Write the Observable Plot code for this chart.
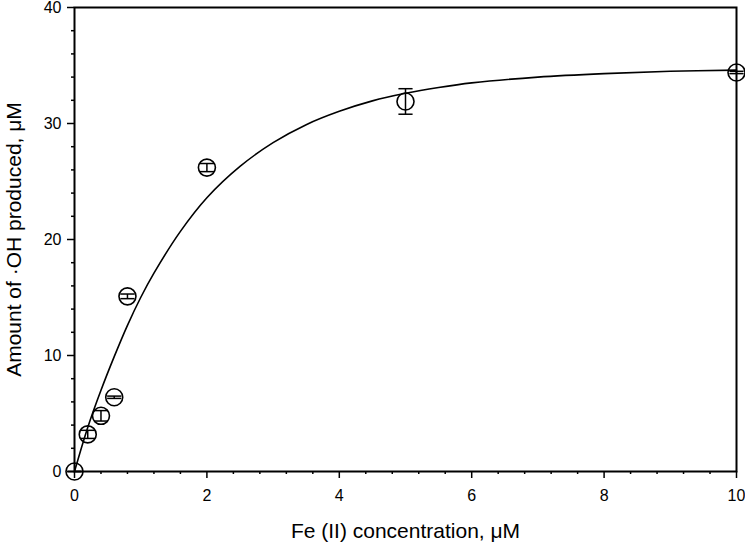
<!DOCTYPE html>
<html>
<head>
<meta charset="utf-8">
<script src="https://cdn.jsdelivr.net/npm/d3@7"></script>
<script src="https://cdn.jsdelivr.net/npm/@observablehq/plot@0.6"></script>
<style>
  html, body { margin: 0; padding: 0; background: #fff; }
  svg { display: block; }
</style>
</head>
<body>
<div id="chart"></div>
<script>
// Measured points
const concX = [0, 0.2, 0.4, 0.6, 0.8, 2, 5, 10];
const ohY   = [0, 3.2, 4.8, 6.4, 15.1, 26.2, 31.9, 34.4];
const ohErr = [0, 0.35, 0.45, 0.1, 0.2, 0.35, 1.1, 0.1];

// Fitted curve
const fitX = [0, 0.2, 0.4, 0.6, 0.8, 1, 1.2, 1.6, 2, 2.5, 3, 3.5, 4, 4.5, 5, 5.5, 6, 7, 8, 9, 10];
const fitY = [0, 3.8, 7.0, 9.9, 12.6, 15.0, 17.1, 20.7, 23.6, 26.3, 28.35, 29.9, 31.05, 31.95, 32.6, 33.1, 33.5, 34.0, 34.3, 34.5, 34.6];

// Ticks
const xMajor = [0, 2, 4, 6, 8, 10];
const xMinor = [0.4, 0.8, 1.2, 1.6, 2.4, 2.8, 3.2, 3.6, 4.4, 4.8, 5.2, 5.6, 6.4, 6.8, 7.2, 7.6, 8.4, 8.8, 9.2, 9.6];
const yMajor = [0, 10, 20, 30, 40];
const yMinor = [2, 4, 6, 8, 12, 14, 16, 18, 22, 24, 26, 28, 32, 34, 36, 38];

const xLabel = "Fe (II) concentration, μM";
const yLabel = "Amount of ·OH produced, μM";

const points = concX.map((x, i) => ({x, y: ohY[i], e: ohErr[i]}));
const fit = fitX.map((x, i) => ({x, y: fitY[i]}));

const cap = {
  draw(context, size) {
    const w = Math.sqrt(size);
    context.moveTo(-w, 0);
    context.lineTo(w, 0);
  }
};

const chart = Plot.plot({
  width: 745,
  height: 549,
  marginLeft: 74,
  marginRight: 9,
  marginTop: 7,
  marginBottom: 78,
  style: {fontFamily: "'Liberation Sans', Arial, sans-serif", fontSize: "16px", color: "#000", background: "#fff"},
  x: {domain: [0, 10]},
  y: {domain: [0, 40]},
  marks: [
    Plot.axisX({ticks: xMinor, tickSize: 3, text: null, strokeWidth: 1.5, label: null}),
    Plot.axisX({ticks: xMajor, tickSize: 7, tickPadding: 11, strokeWidth: 1.5, label: null, fontSize: 16}),
    Plot.axisY({ticks: yMinor, tickSize: 3, text: null, strokeWidth: 1.5, label: null}),
    Plot.axisY({ticks: yMajor, tickSize: 7, tickPadding: 6, strokeWidth: 1.5, label: null, fontSize: 16}),
    Plot.frame({stroke: "#000", strokeWidth: 2}),
    Plot.line(fit, {x: "x", y: "y", curve: "catmull-rom", stroke: "#000", strokeWidth: 1.6}),
    Plot.link(points, {x1: "x", x2: "x", y1: d => d.y - d.e, y2: d => d.y + d.e, stroke: "#000", strokeWidth: 1.5}),
    Plot.dot(points, {x: "x", y: d => d.y - d.e, symbol: cap, r: 4, stroke: "#000", strokeWidth: 1.5}),
    Plot.dot(points, {x: "x", y: d => d.y + d.e, symbol: cap, r: 4, stroke: "#000", strokeWidth: 1.5}),
    Plot.dot(points, {x: "x", y: "y", r: 8.5, stroke: "#000", fill: "none", strokeWidth: 1.6}),
    Plot.text([xLabel], {frameAnchor: "bottom", dy: 60, lineAnchor: "middle", fontSize: 21, fill: "#000"}),
    Plot.text([yLabel], {frameAnchor: "left", dx: -60, rotate: -90, lineAnchor: "middle", textAnchor: "middle", fontSize: 21, fill: "#000"})
  ]
});
document.getElementById("chart").appendChild(chart);
</script>
</body>
</html>
